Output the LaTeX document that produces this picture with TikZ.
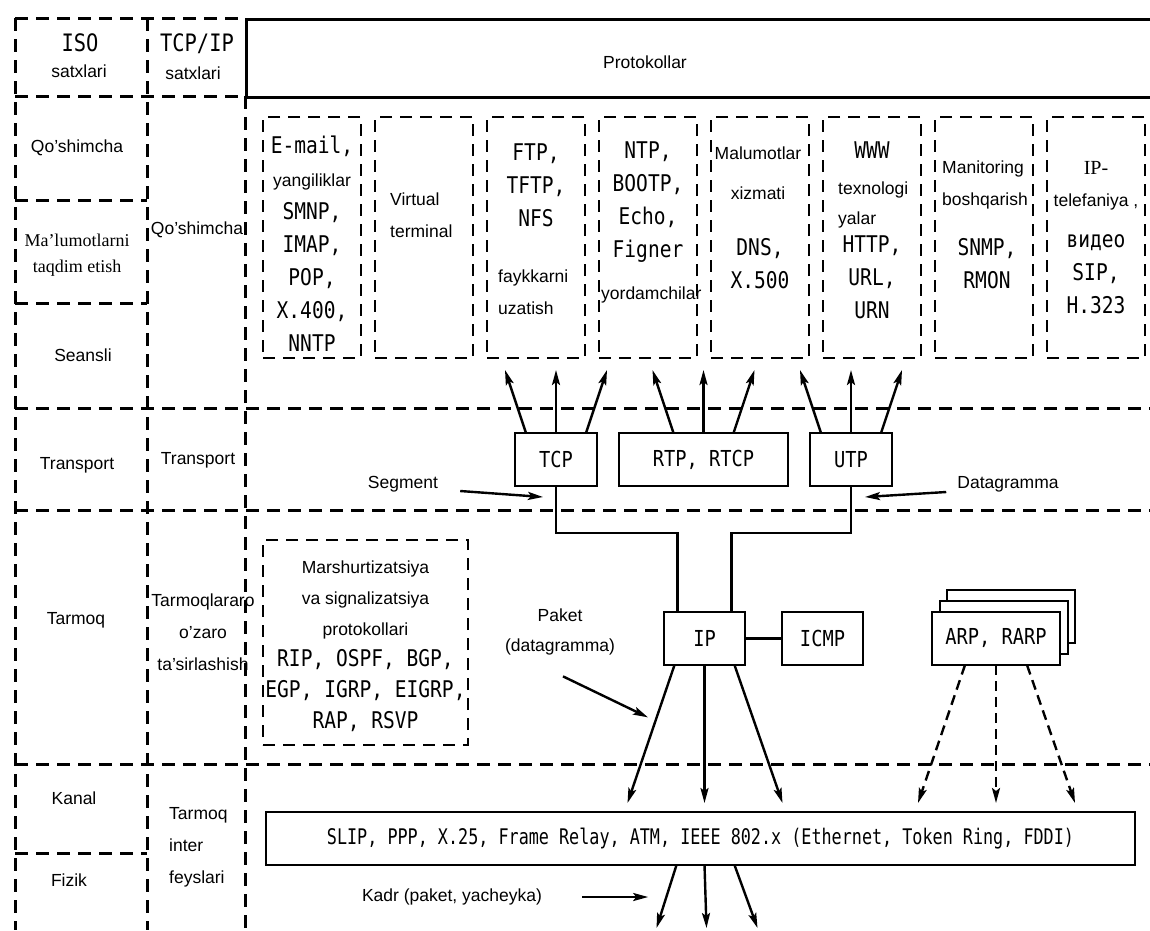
\documentclass[tikz,border=0pt]{standalone}
\usepackage{fontspec}
\setmainfont{Liberation Serif}
\setsansfont{Liberation Sans}
\newfontfamily\monof[FakeStretch=0.85]{DejaVu Sans Mono}
\newfontfamily\barf[FakeStretch=0.78]{DejaVu Sans Mono}
\newcommand\smtxt{\sffamily\fontsize{17.5}{32}\selectfont}
\usetikzlibrary{positioning,arrows.meta}

\begin{document}
\begin{tikzpicture}[x=1pt, y=-1pt, node distance=14pt]
    \tikzstyle{gridline}=[line width=3pt, dash pattern=on 13pt off 8pt]
    \tikzstyle{appbox}=[draw, line width=2.8pt, dash pattern=on 12pt off 8pt,
                        minimum width=98pt, minimum height=241pt, inner sep=0pt, outer sep=0pt]
    \tikzstyle{box}=[draw, line width=2.8pt, fill=white, minimum height=53pt,
                     inner sep=0pt, outer sep=0pt, font=\monof\fontsize{22}{26}\selectfont]
    \tikzstyle{wire}=[line width=2.6pt]
    \tikzstyle{arrow}=[draw, line width=2.4pt, -{Stealth[length=15pt,width=8pt,inset=3pt]}]
    \tikzstyle{lbl}=[font=\smtxt, align=center, inner sep=2pt]
    \tikzstyle{mono}=[font=\monof\fontsize{23}{33}\selectfont, align=center, inner sep=0pt]

    \useasboundingbox (0,0) rectangle (1150,930);
    \clip (0,0) rectangle (1150,930);

    % layer grid
    \draw[gridline] (15,18) -- (245,18);
    \draw[gridline] (15,96) -- (245,96);
    \foreach \y in {200,303,853}
        \draw[gridline] (15,\y) -- (147,\y);
    \foreach \y in {408,510,764}
        \draw[gridline] (15,\y) -- (1150,\y);
    \foreach \x in {15,147}
        \draw[gridline] (\x,18) -- (\x,930);
    \draw[gridline] (245,96) -- (245,930);
    \node[draw, line width=2.8pt, inner sep=0pt, minimum width=940pt, minimum height=78pt,
          anchor=north west] (protobox) at (245,18) {};

    % column headers
    \node[mono, font=\monof\fontsize{24}{28}\selectfont] (iso) at (80,43) {ISO};
    \node[lbl] (isosat) at (79,71) {satxlari};
    \node[mono, font=\monof\fontsize{24}{28}\selectfont] (tcpip) at (197,44) {TCP/IP};
    \node[lbl] (tcpsat) at (193,73) {satxlari};
    \node[lbl] (proto) at (645,62) {Protokollar};

    % ISO layers
    \node[lbl] (app) at (77,148) {Qo'shimcha};
    \node[lbl, font=\rmfamily\fontsize{18}{26}\selectfont] (pres) at (77,255) {Ma'lumotlarni\\taqdim etish};
    \node[lbl] (sess) at (83,355) {Seansli};
    \node[lbl] (trans) at (77,465) {Transport};
    \node[lbl] (net) at (76,620) {Tarmoq};
    \node[lbl] (link) at (74,798) {Kanal};
    \node[lbl] (phys) at (69,880) {Fizik};
    % TCP/IP layers
    \node[lbl] (tapp) at (197,230) {Qo'shimcha};
    \node[lbl] (ttrans) at (198,460) {Transport};
    \node[lbl] (tnet) at (203,632) {Tarmoqlararo\\o'zaro\\ta'sirlashish};
    \node[lbl, align=left, anchor=west] (tlink) at (167,847) {Tarmoq\\inter\\feyslari};

    % application protocols
    \node[appbox] (email) at (312,237.5) {};
    \node[appbox, right=of email] (virt) {};
    \node[appbox, right=of virt] (ftp) {};
    \node[appbox, right=of ftp] (ntp) {};
    \node[appbox, right=of ntp] (dns) {};
    \node[appbox, right=of dns] (www) {};
    \node[appbox, right=of www] (mon) {};
    \node[appbox, right=of mon] (tel) {};

    \node[mono, yshift=-6pt] (emailt) at (email)
        {E-mail,\\{\smtxt yangiliklar}\\SMNP,\\IMAP,\\POP,\\X.400,\\NNTP};
    \node[lbl, align=left, anchor=west, xshift=13pt, yshift=22pt] (virtt) at (virt.west) {Virtual\\terminal};
    \node[mono, yshift=52pt] (ftpt) at (ftp) {FTP,\\TFTP,\\NFS};
    \node[lbl, align=left, anchor=west, xshift=9pt, yshift=-55pt] (ftpd) at (ftp.west) {faykkarni\\uzatish};
    \node[mono, yshift=35pt] (ntpt) at (ntp) {NTP,\\BOOTP,\\Echo,\\Figner};
    \node[lbl, anchor=west, yshift=-57pt] (ntpd) at (ntp.west) {yordamchilar};
    \node[lbl, xshift=-2pt, yshift=64pt] (dnsd) at (dns) {Malumotlar\\[8pt]xizmati};
    \node[mono, yshift=-26pt] (dnst) at (dns) {DNS,\\X.500};
    \node[mono, yshift=87pt] (wwwt) at (www) {WWW};
    \node[lbl, align=left, anchor=west, xshift=13pt, yshift=33pt] (wwwd) at (www.west) {texnologi\\[-2pt]yalar};
    \node[mono, yshift=-40pt] (wwwp) at (www) {HTTP,\\URL,\\URN};
    \node[lbl, align=left, anchor=west, xshift=5pt, yshift=53pt] (mond) at (mon.west) {Manitoring\\boshqarish};
    \node[mono, xshift=3pt, yshift=-26pt] (mont) at (mon) {SNMP,\\RMON};
    \node[lbl, yshift=52pt] (teld) at (tel) {{\rmfamily\fontsize{20}{32}\selectfont IP-}\\telefaniya ,};
    \node[mono, yshift=-37pt] (telt) at (tel) {видео\\SIP,\\H.323};

    % transport
    \node[box, minimum width=82pt] (tcp) at (556,459.5) {TCP};
    \node[box, minimum width=169pt, right=22pt of tcp] (rtp) {RTP, RTCP};
    \node[box, minimum width=82pt, right=22pt of rtp] (utp) {UTP};
    \foreach \b in {tcp,rtp,utp}
        \foreach \s/\d in {-30/-21,0/0,30/21}
            \draw[arrow] ([xshift=\s pt]\b.north) -- ++(\d,-63);

    \node[lbl] (seg) at (403,484) {Segment};
    \draw[arrow] ([xshift=20pt,yshift=-7pt]seg.east) -- ([xshift=-13pt,yshift=-11pt]tcp.south);
    \node[lbl] (dgram) at (1008,484) {Datagramma};
    \draw[arrow] ([xshift=-9pt,yshift=-8pt]dgram.west) -- ([xshift=14pt,yshift=-11pt]utp.south);

    % internetwork
    \node[appbox, minimum width=205pt, minimum height=205pt] (rout) at (365.5,642.5) {};
    \node[mono, font=\monof\fontsize{23}{31}\selectfont, yshift=-4pt] (routt) at (rout)
        {{\smtxt Marshurtizatsiya}\\{\smtxt va signalizatsiya}\\{\smtxt protokollari}\\RIP, OSPF, BGP,\\EGP, IGRP, EIGRP,\\RAP, RSVP};

    \node[box, minimum width=81pt] (ip) at (704.5,638.5) {IP};
    \node[box, minimum width=81pt, right=37pt of ip] (icmp) {ICMP};
    \draw[wire] (ip) -- (icmp);
    \draw[wire] (tcp.south) -- ++(0,47) -| ([xshift=-27pt]ip.north);
    \draw[wire] (utp.south) -- ++(0,47) -| ([xshift=27pt]ip.north);

    \node[box, minimum width=128pt] (arp3) at (1011,616.5) {};
    \node[box, minimum width=128pt] (arp2) at (1004,627.5) {};
    \node[box, minimum width=128pt] (arp) at (996,638.5) {ARP, RARP};

    \node[lbl] (paket) at (560,632) {Paket\\[-2pt](datagramma)};
    \draw[arrow] ([xshift=3pt,yshift=-19pt]paket.south) -- ++(85,41);

    \foreach \s/\d in {-30/-47,0/0,30/48}
        \draw[arrow] ([xshift=\s pt]ip.south) -- ++(\d,138);
    \foreach \s/\d in {-31/-47,0/0,31/48}
        \draw[arrow, dash pattern=on 10pt off 6pt] ([xshift=\s pt]arp.south) -- ++(\d,138);

    % link and physical
    \node[box, minimum width=869pt, font=\barf\fontsize{21.5}{26}\selectfont] (bar) at (700.5,838.5)
        {SLIP, PPP, X.25, Frame Relay, ATM, IEEE 802.x (Ethernet, Token Ring, FDDI)};
    \coordinate (bs) at (bar.south -| ip);
    \foreach \s/\d in {-28/-20,0/2,30/23}
        \draw[arrow] ([xshift=\s pt]bs) -- ++(\d,63);
    \node[lbl] (kadr) at (452,897) {Kadr (paket, yacheyka)};
    \draw[arrow] ([xshift=38pt]kadr.east) -- ++(66,0);
\end{tikzpicture}
\end{document}
